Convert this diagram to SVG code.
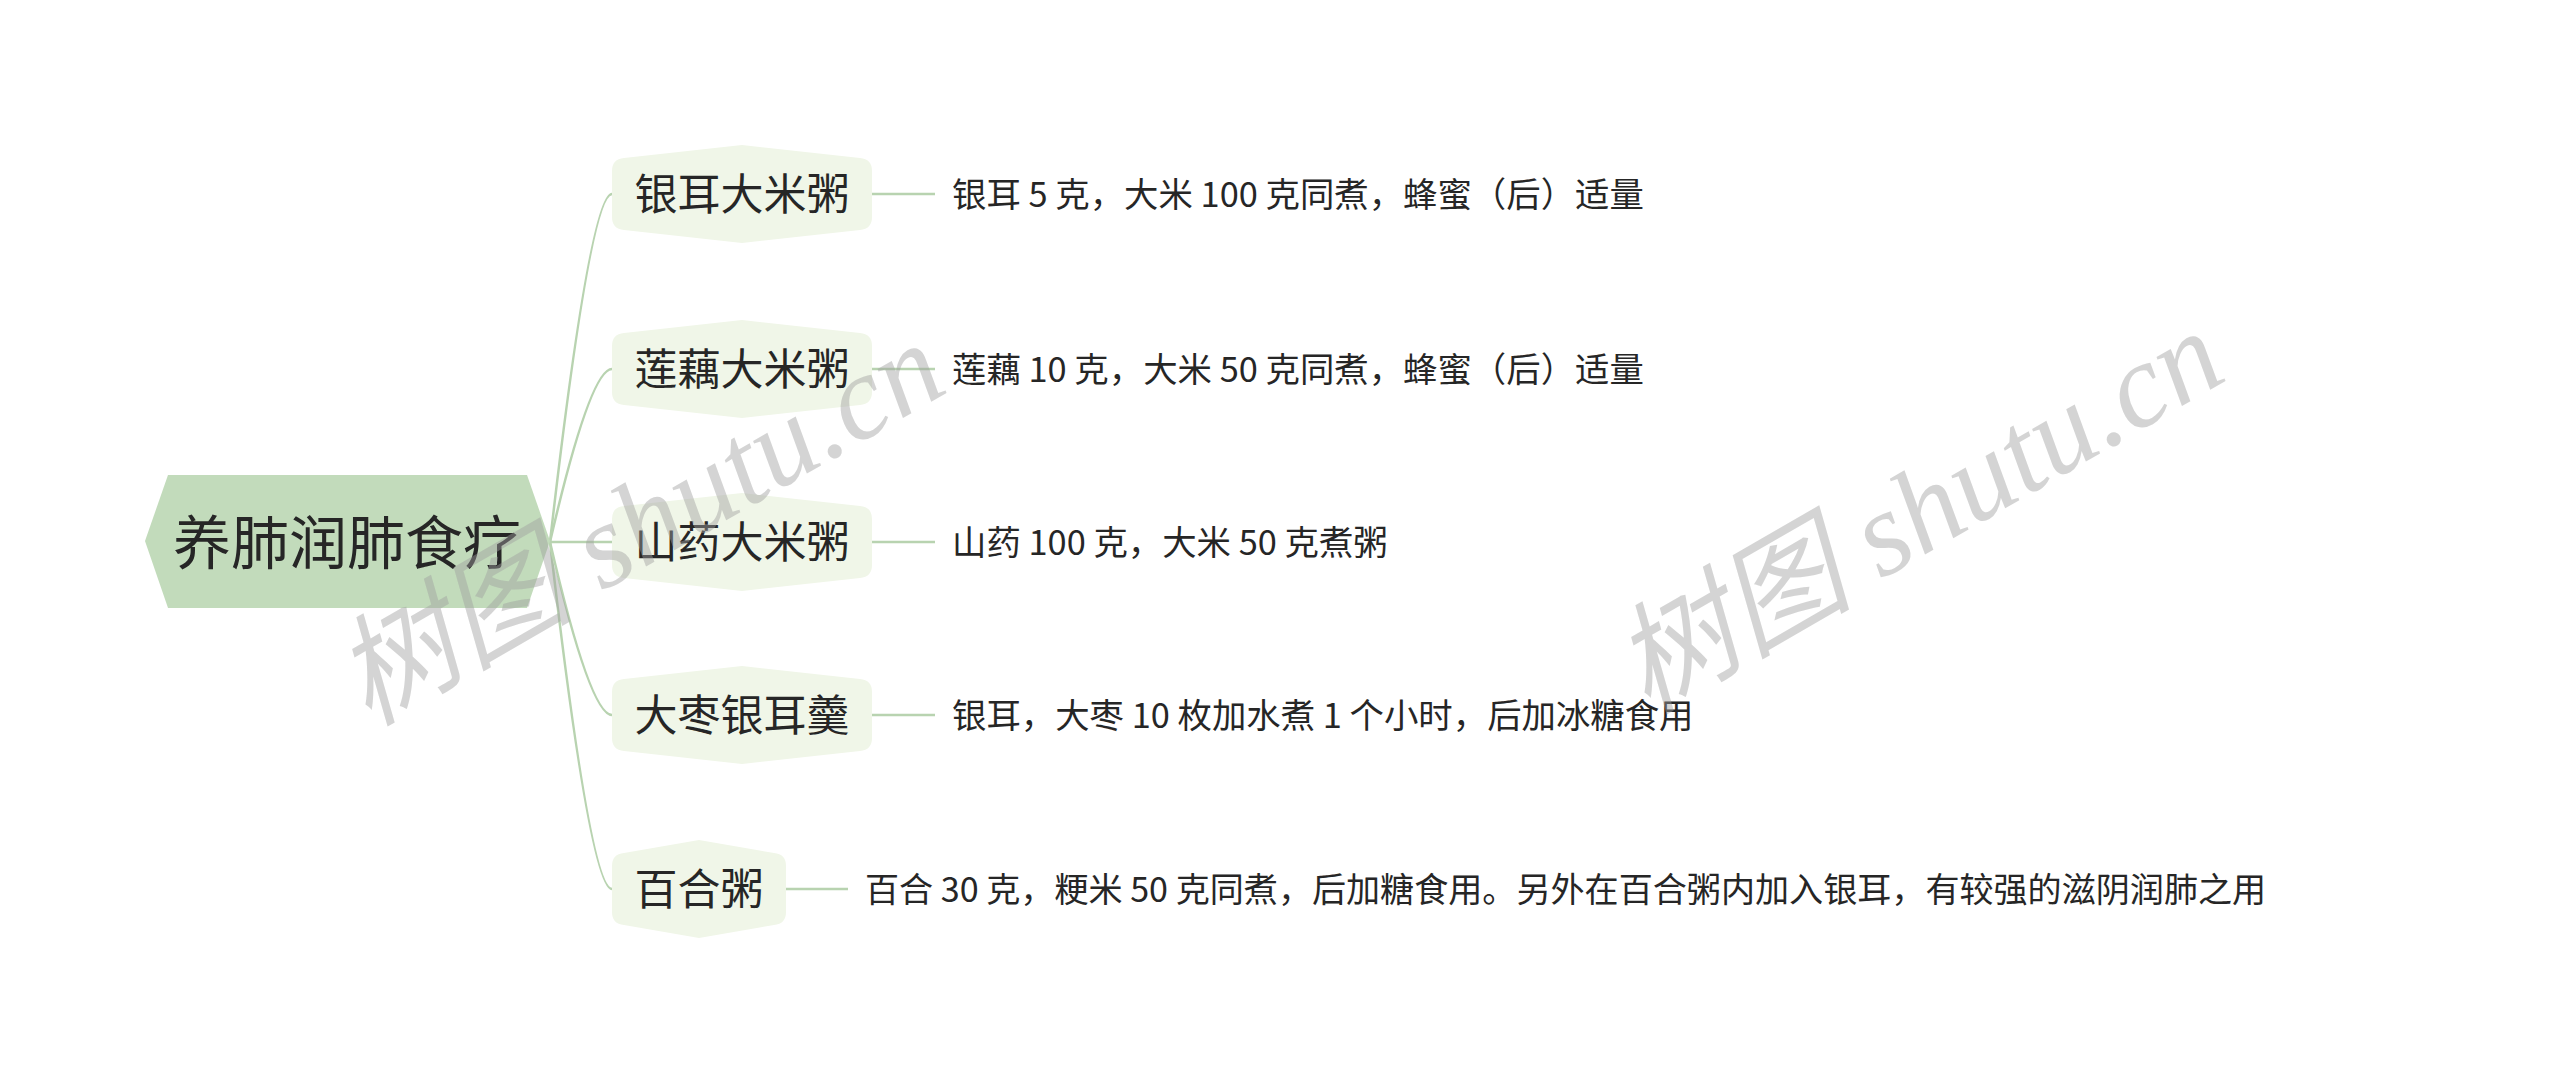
<svg xmlns="http://www.w3.org/2000/svg" width="2560" height="1085" viewBox="0 0 2560 1085">
<style>
.root{fill:#c2dbbb}
.br{fill:#f0f6e8}
.conn{fill:none;stroke:#b8d3b0;stroke-width:2.5}
.t{font-family:"Noto Sans CJK SC","Microsoft YaHei",sans-serif;fill:#262626}
.tr{font-size:58px;text-anchor:middle}
.tb{font-size:43px;text-anchor:middle}
.td{font-size:34.4px}
.td5{font-size:34.1px}
.wm{font-family:"Liberation Serif","Noto Sans CJK SC",serif;font-style:italic;font-size:120px;fill:#a0a0a0;fill-opacity:0.45}
</style>
<rect width="2560" height="1085" fill="#ffffff"/>
<g id="connectors">
<path class="conn" d="M550 542 Q590 194 612 194"/>
<path class="conn" d="M550 542 Q590 369 612 369"/>
<path class="conn" d="M550 542 L612 542"/>
<path class="conn" d="M550 542 Q590 715 612 715"/>
<path class="conn" d="M550 542 Q590 889 612 889"/>
<path class="conn" d="M872 194 L935 194"/>
<path class="conn" d="M872 369 L935 369"/>
<path class="conn" d="M872 542 L935 542"/>
<path class="conn" d="M872 715 L935 715"/>
<path class="conn" d="M786 889 L848 889"/>
</g>
<g id="root">
<polygon class="root" points="145,541 168,475 527,475 550,541 527,608 168,608"/>
<text class="t tr" x="347" y="564">养肺润肺食疗</text>
</g>
<g id="n1">
<path class="br" d="M624 158 L742 145 L860 158 Q872 159 872 171 L872 217 Q872 229 860 230 L742 243 L624 230 Q612 229 612 217 L612 171 Q612 159 624 158 Z"/>
<text class="t tb" x="742" y="210">银耳大米粥</text>
</g>
<g id="d1"><text class="t td" x="952" y="207">银耳 5 克，大米 100 克同煮，蜂蜜（后）适量</text></g>
<g id="n2">
<path class="br" d="M624 333 L742 320 L860 333 Q872 334 872 346 L872 392 Q872 404 860 405 L742 418 L624 405 Q612 404 612 392 L612 346 Q612 334 624 333 Z"/>
<text class="t tb" x="742" y="385">莲藕大米粥</text>
</g>
<g id="d2"><text class="t td" x="952" y="382">莲藕 10 克，大米 50 克同煮，蜂蜜（后）适量</text></g>
<g id="n3">
<path class="br" d="M624 506 L742 493 L860 506 Q872 507 872 519 L872 565 Q872 577 860 578 L742 591 L624 578 Q612 577 612 565 L612 519 Q612 507 624 506 Z"/>
<text class="t tb" x="742" y="558">山药大米粥</text>
</g>
<g id="d3"><text class="t td" x="952" y="555">山药 100 克，大米 50 克煮粥</text></g>
<g id="n4">
<path class="br" d="M624 679 L742 666 L860 679 Q872 680 872 692 L872 738 Q872 750 860 751 L742 764 L624 751 Q612 750 612 738 L612 692 Q612 680 624 679 Z"/>
<text class="t tb" x="742" y="731">大枣银耳羹</text>
</g>
<g id="d4"><text class="t td" x="952" y="728">银耳，大枣 10 枚加水煮 1 个小时，后加冰糖食用</text></g>
<g id="n5">
<path class="br" d="M624 853 L699 840 L774 853 Q786 854 786 866 L786 912 Q786 924 774 925 L699 938 L624 925 Q612 924 612 912 L612 866 Q612 854 624 853 Z"/>
<text class="t tb" x="699" y="905">百合粥</text>
</g>
<g id="d5"><text class="t td5" x="865" y="902">百合 30 克，粳米 50 克同煮，后加糖食用。另外在百合粥内加入银耳，有较强的滋阴润肺之用</text></g>
<g id="watermarks">
<text class="wm" x="368" y="727" transform="rotate(-30 368 727)">树图 shutu.cn</text>
<text class="wm" x="1647" y="715" transform="rotate(-30 1647 715)">树图 shutu.cn</text>
</g>
</svg>
